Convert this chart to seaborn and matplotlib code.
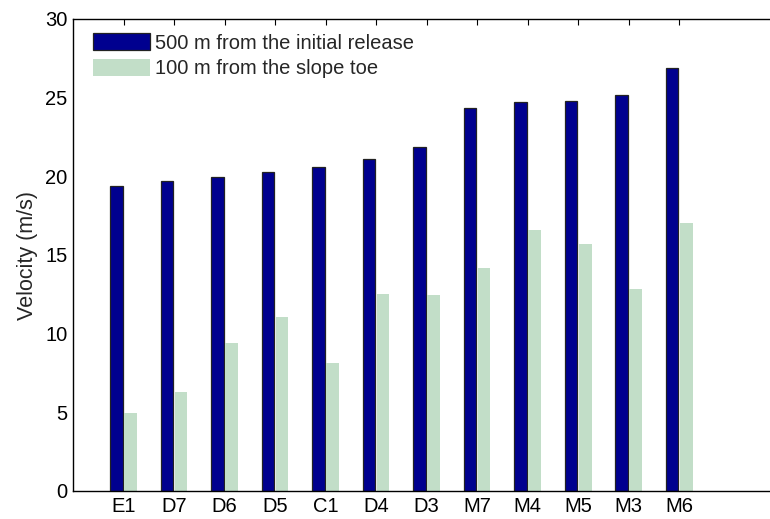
import pandas as pd
import numpy as np
import seaborn as sns
import matplotlib
matplotlib.use("Agg")
import matplotlib.pyplot as plt

sites = ["E1", "D7", "D6", "D5", "C1", "D4", "D3", "M7", "M4", "M5", "M3", "M6"]
v_release = [19.37, 19.71, 19.98, 20.26, 20.60, 21.08, 21.85, 24.35, 24.71, 24.79, 25.15, 26.90]
v_toe = [4.96, 6.29, 9.41, 11.06, 8.14, 12.52, 12.46, 14.18, 16.59, 15.70, 12.84, 17.04]
series = ["500 m from the initial release", "100 m from the slope toe"]

df = pd.DataFrame({
    "site": sites * 2,
    "velocity": v_release + v_toe,
    "series": [series[0]] * len(sites) + [series[1]] * len(sites),
})

sns.set_style("white")
plt.rcParams["font.family"] = ["Liberation Sans", "DejaVu Sans"]

palette = ["#00008F", "#C2DEC8"]
fs = 14.5

fig = plt.figure(figsize=(7.7, 5.19), dpi=100, facecolor="w")
ax = fig.add_axes([73 / 770, 28 / 519, 1 - 73 / 770, 472 / 519])
sns.barplot(data=df, x="site", y="velocity", hue="series", palette=palette,
            width=0.56, gap=0.1, saturation=1, ax=ax, linewidth=0)

# dark bars get a thin black outline
for bar in ax.containers[0]:
    bar.set_edgecolor("#222222")
    bar.set_linewidth(0.9)

ax.set_xlim(-1, 12.8)
ax.set_ylim(0, 30)
ax.set_yticks(np.arange(0, 31, 5))
ax.set_xlabel("")
ax.set_ylabel("Velocity (m/s)", fontsize=15.5, labelpad=5)

ax.tick_params(axis="both", which="major", direction="in", length=4, width=0.8,
               labelsize=fs, top=True, right=False, colors="k")
ax.tick_params(axis="x", pad=4)
ax.tick_params(axis="y", pad=4)
ax.spines["right"].set_visible(False)
for spine in ["top", "left", "bottom"]:
    ax.spines[spine].set_linewidth(1.0)
    ax.spines[spine].set_color("k")

handles = ax.containers
leg = ax.legend(handles=[handles[0][0], handles[1][0]], labels=series,
                loc="upper left", bbox_to_anchor=(20 / 697, 1 - 14 / 472),
                frameon=False, fontsize=fs, handlelength=2.83, handleheight=0.95,
                handletextpad=0.25, labelspacing=0.3, borderpad=0, borderaxespad=0)

fig.savefig("out.png", dpi=100, facecolor="w")
